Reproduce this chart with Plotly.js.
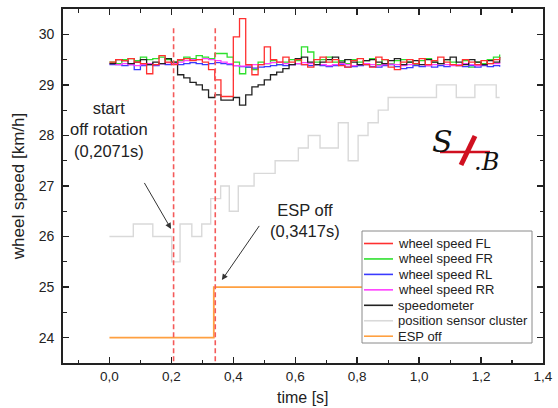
<!DOCTYPE html>
<html>
<head>
<meta charset="utf-8">
<script src="https://cdn.plot.ly/plotly-3.0.1.min.js"></script>
<style>html,body{margin:0;padding:0;background:#fff;}#chart{width:558px;height:408px;}</style>
</head>
<body>
<div id="chart"></div>
<script>
// ---------------- data ----------------
const time = [0.00,0.02,0.04,0.06,0.08,0.10,0.12,0.14,0.16,0.18,0.20,0.22,0.24,0.26,0.28,0.30,0.32,0.34,0.36,0.38,0.40,0.42,0.44,0.46,0.48,0.50,0.52,0.54,0.56,0.58,0.60,0.62,0.64,0.66,0.68,0.70,0.72,0.74,0.76,0.78,0.80,0.82,0.84,0.86,0.88,0.90,0.92,0.94,0.96,0.98,1.00,1.02,1.04,1.06,1.08,1.10,1.12,1.14,1.16,1.18,1.20,1.22,1.24,1.26];

const wheelFL = [29.45,29.50,29.48,29.52,29.45,29.42,29.22,29.40,29.58,29.45,29.40,29.50,29.52,29.48,29.50,29.45,29.30,29.10,28.77,28.77,29.95,30.31,29.40,29.20,29.40,29.75,29.50,29.45,29.55,29.45,29.50,29.40,29.35,29.50,29.55,29.45,29.50,29.38,29.35,29.48,29.52,29.40,29.35,29.55,29.50,29.35,29.30,29.45,29.50,29.42,29.52,29.40,29.48,29.55,29.45,29.40,29.38,29.50,29.45,29.40,29.48,29.42,29.50,29.55];

const wheelFR = [29.45,29.42,29.50,29.52,29.48,29.55,29.50,29.52,29.55,29.50,29.45,29.48,29.55,29.52,29.58,29.55,29.52,29.62,29.62,29.55,29.45,29.22,29.35,29.30,29.45,29.42,29.48,29.40,29.45,29.50,29.48,29.75,29.65,29.45,29.50,29.55,29.45,29.48,29.42,29.50,29.45,29.48,29.52,29.40,29.50,29.42,29.48,29.50,29.45,29.40,29.48,29.52,29.45,29.42,29.50,29.45,29.40,29.48,29.35,29.45,29.42,29.50,29.55,29.60];

const wheelRL = [29.40,29.40,29.38,29.40,29.30,29.38,29.40,29.38,29.42,29.40,29.42,29.40,29.42,29.44,29.42,29.40,29.42,29.44,29.42,29.40,29.38,29.36,29.35,29.33,29.35,29.36,29.38,29.40,29.38,29.40,29.42,29.40,29.38,29.40,29.38,29.36,29.38,29.40,29.35,29.36,29.38,29.40,29.36,29.35,29.38,29.40,29.36,29.32,29.34,29.38,29.36,29.38,29.35,29.38,29.36,29.40,29.38,29.36,29.38,29.35,29.38,29.36,29.38,29.36];

const wheelRR = [29.42,29.40,29.42,29.40,29.38,29.40,29.42,29.40,29.42,29.44,29.42,29.45,29.48,29.50,29.50,29.52,29.50,29.48,29.45,29.42,29.38,29.37,29.38,29.40,29.40,29.42,29.44,29.45,29.42,29.40,29.42,29.44,29.42,29.40,29.40,29.38,29.40,29.42,29.40,29.38,29.40,29.42,29.40,29.38,29.40,29.41,29.40,29.38,29.40,29.42,29.40,29.38,29.40,29.42,29.40,29.38,29.40,29.42,29.40,29.38,29.40,29.42,29.42,29.45];

const speedometer = [29.42,29.50,29.48,29.42,29.45,29.50,29.40,29.45,29.42,29.52,29.45,29.20,29.14,29.05,29.00,28.90,28.75,28.80,28.70,28.70,28.75,28.60,28.80,28.96,29.00,29.10,29.20,29.25,29.32,29.40,29.52,29.55,29.45,29.40,29.45,29.50,29.55,29.45,29.50,29.45,29.40,29.48,29.50,29.45,29.42,29.48,29.52,29.40,29.45,29.48,29.40,29.50,29.45,29.42,29.50,29.55,29.45,29.40,29.50,29.45,29.40,29.48,29.45,29.55];

const clusterTime  = [0, 0.077, 0.14, 0.201, 0.228, 0.266, 0.298, 0.327, 0.359, 0.387, 0.416, 0.467, 0.535, 0.61, 0.642, 0.68, 0.739, 0.771, 0.803, 0.835, 0.868, 0.90, 1.056, 1.12, 1.18, 1.249, 1.26];
const clusterSpeed = [26.0, 26.25, 26.0, 25.5, 26.25, 26.0, 26.25, 26.75, 27.0, 26.5, 27.0, 27.25, 27.5, 27.75, 28.0, 27.75, 28.25, 27.5, 28.0, 28.25, 28.5, 28.75, 29.0, 28.75, 29.0, 28.75, 28.75];

const espTime  = [0, 0.337, 1.26];
const espState = [24, 25, 25];

const eventTimes  = [0.2071, 0.3417];
const eventLabels = ['start<br>off rotation<br>(0,2071s)', 'ESP off<br>(0,3417s)'];

const seriesNames  = ['wheel speed FL','wheel speed FR','wheel speed RL','wheel speed RR','speedometer','position sensor cluster','ESP off'];
const seriesColors = ['#ff3030','#2ee02e','#3a3aff','#ff40ff','#222222','#d9d9d9','#ffa040'];

// ---------------- traces ----------------
const seriesX = [time, time, time, time, time, clusterTime, espTime];
const seriesY = [wheelFL, wheelFR, wheelRL, wheelRR, speedometer, clusterSpeed, espState];
const drawOrder = [5, 6, 1, 2, 3, 4, 0];   // draw gray first, red on top
const traces = [];
drawOrder.forEach(k => {
  traces.push({
    type: 'scatter', mode: 'lines', name: seriesNames[k],
    x: seriesX[k], y: seriesY[k],
    line: {shape: 'hv', color: seriesColors[k], width: k === 5 ? 1.4 : (k === 6 ? 1.8 : 1.3)},
    showlegend: false, hoverinfo: 'skip'
  });
});
eventTimes.forEach(t => {
  traces.push({
    type: 'scatter', mode: 'lines', x: [t, t], y: [30.12, 23.5],
    line: {color: '#f45a5a', width: 1.6, dash: '5px,3px'},
    showlegend: false, hoverinfo: 'skip'
  });
});

// ---------------- layout helpers ----------------
const L = 63, R = 543, T = 9, B = 363;
const pxX = px => (px - L) / (R - L);
const pxY = py => (B - py) / (B - T);

const shapes = [];
const annotations = [];

// manual legend (compact spacing like the original)
shapes.push({type: 'rect', xref: 'paper', yref: 'paper', x0: pxX(362), x1: pxX(532), y0: pxY(343), y1: pxY(231),
  line: {color: '#8a8a8a', width: 1}, fillcolor: '#ffffff', layer: 'above'});
seriesNames.forEach((name, k) => {
  const py = 243.5 + 15.45 * k;
  shapes.push({type: 'line', xref: 'paper', yref: 'paper', x0: pxX(364), x1: pxX(393), y0: pxY(py), y1: pxY(py),
    line: {color: seriesColors[k], width: 1.6}, layer: 'above'});
  annotations.push({xref: 'paper', yref: 'paper', x: pxX(396), y: pxY(py), xanchor: 'left', yanchor: 'middle',
    text: name, showarrow: false, font: {size: 13, color: '#222'}});
});

// event annotations
annotations.push({x: 0.0, y: 28.12, xref: 'x', yref: 'y', text: eventLabels[0], showarrow: false,
  font: {size: 16.5, color: '#222'}, align: 'center'});
annotations.push({x: 0.63, y: 26.32, xref: 'x', yref: 'y', text: eventLabels[1], showarrow: false,
  font: {size: 16.5, color: '#222'}, align: 'center'});
// arrows
annotations.push({x: 0.199, y: 26.15, xref: 'x', yref: 'y', ax: 0.11, ay: 27.09, axref: 'x', ayref: 'y',
  text: '', showarrow: true, arrowhead: 2, arrowsize: 1.2, arrowwidth: 1, arrowcolor: '#333'});
annotations.push({x: 0.363, y: 25.14, xref: 'x', yref: 'y', ax: 0.487, ay: 26.24, axref: 'x', ayref: 'y',
  text: '', showarrow: true, arrowhead: 2, arrowsize: 1.2, arrowwidth: 1, arrowcolor: '#333'});

// logo
shapes.push({type: 'line', xref: 'paper', yref: 'paper', x0: pxX(440), x1: pxX(490), y0: pxY(152), y1: pxY(152),
  line: {color: '#d01020', width: 2.5}, layer: 'above'});
shapes.push({type: 'line', xref: 'paper', yref: 'paper', x0: pxX(475), x1: pxX(461), y0: pxY(136), y1: pxY(165),
  line: {color: '#d01020', width: 5}, layer: 'above'});
annotations.push({xref: 'paper', yref: 'paper', x: pxX(442), y: pxY(141), xanchor: 'center', yanchor: 'middle',
  text: '<i>S</i>', showarrow: false, font: {family: 'DejaVu Serif', size: 30, color: '#111'}});
annotations.push({xref: 'paper', yref: 'paper', x: pxX(486), y: pxY(162), xanchor: 'center', yanchor: 'middle',
  text: '<i>.B</i>', showarrow: false, font: {family: 'DejaVu Serif', size: 24, color: '#111'}});

// x-axis title placed below the tick labels, inside the page
annotations.push({xref: 'paper', yref: 'paper', x: 0.5, y: pxY(408), xanchor: 'center', yanchor: 'bottom',
  text: 'time [s]', showarrow: false, font: {size: 16, color: '#222'}});

const axisCommon = {
  showgrid: false, zeroline: false, showline: true, linecolor: '#222', linewidth: 1.8,
  mirror: 'allticks', ticks: 'inside', ticklen: 6, tickwidth: 1.4, tickcolor: '#222',
  tickfont: {size: 14, color: '#222'}
};

const layout = {
  width: 558, height: 408,
  margin: {l: L, r: 558 - R, t: T, b: 408 - B},
  paper_bgcolor: '#fff', plot_bgcolor: '#fff',
  font: {family: 'Liberation Sans, Arial, sans-serif', color: '#222'},
  separators: ', ',
  showlegend: false,
  xaxis: Object.assign({}, axisCommon, {
    range: [-0.15, 1.4], tick0: 0, dtick: 0.2, tickformat: '.1f',
    tickfont: {size: 13.5, color: '#222'},
    minor: {dtick: 0.1, ticks: 'inside', ticklen: 3.5, tickwidth: 1.2, tickcolor: '#222', showgrid: false}
  }),
  yaxis: Object.assign({}, axisCommon, {
    range: [23.5, 30.5], tick0: 24, dtick: 1,
    minor: {dtick: 0.5, ticks: 'inside', ticklen: 3.5, tickwidth: 1.2, tickcolor: '#222', showgrid: false},
    ticklabelstandoff: 4,
    title: {text: 'wheel speed [km/h]', font: {size: 17, color: '#222'}, standoff: 10}
  }),
  shapes: shapes,
  annotations: annotations
};

Plotly.newPlot('chart', traces, layout, {staticPlot: true, displayModeBar: false});
</script>
</body>
</html>
